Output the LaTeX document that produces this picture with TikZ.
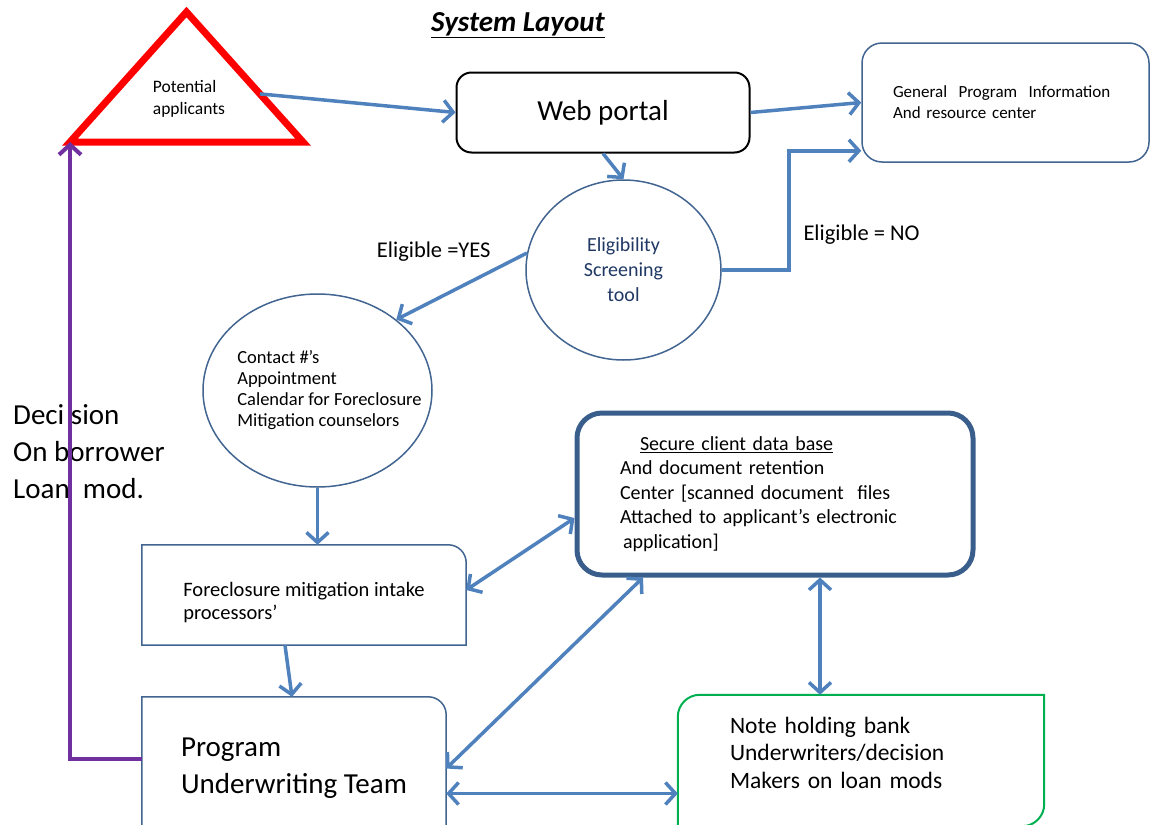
\documentclass[tikz,border=0pt]{standalone}
\usepackage{fontspec}
\setmainfont{Carlito}
\usetikzlibrary{shapes.geometric, arrows.meta, calc}
\definecolor{arrblue}{RGB}{79,129,189}
\definecolor{bordblue}{RGB}{65,100,145}
\definecolor{secblue}{RGB}{58,94,140}
\definecolor{notegreen}{RGB}{0,176,80}
\definecolor{decpurple}{RGB}{112,48,160}
\definecolor{elignavy}{RGB}{31,56,100}
\definecolor{applred}{RGB}{255,0,0}

\begin{document}
\begin{tikzpicture}[x=1pt, y=-1pt,
  box/.style={rectangle,draw=bordblue,line width=1.5pt,rounded corners=20pt,align=left,inner sep=0pt},
  flat/.style={rectangle,draw=none,align=left,inner sep=0pt},
  circ/.style={ellipse,draw=bordblue,line width=1.5pt,align=center,inner sep=0pt},
  tri/.style={isosceles triangle,isosceles triangle stretches,shape border rotate=90,draw=applred,line width=7pt,inner sep=0pt,outer sep=0pt},
  arr/.style={draw=arrblue,line width=3.5pt,-{Straight Barb[length=10pt,width=22pt]}},
  darr/.style={arr,{Straight Barb[length=10pt,width=22pt]}-{Straight Barb[length=10pt,width=22pt]}},
  parr/.style={draw=decpurple,line width=4pt,-{Straight Barb[length=10pt,width=22pt]}},
  lbl/.style={font=\fontsize{22.5}{26}\selectfont,inner sep=2pt},
  smalltxt/.style={font=\fontsize{17}{21}\selectfont}
]
  \clip (0,0) rectangle (1152,825);

  \node[font=\fontsize{29}{34}\selectfont\bfseries\itshape] (title) at (518,25) {\underline{System Layout}};
  \node[tri,minimum width=233pt,minimum height=130pt,anchor=lower side] (appl) at (186.5,142) {};
  \node[flat,font=\fontsize{17.5}{22}\selectfont] (appltxt) at (189,99) {Potential\\applicants};
  \node[box,draw=black,line width=2pt,rounded corners=15pt,minimum width=293pt,minimum height=80pt,font=\fontsize{29}{34}\selectfont] (web) at (603,112.5) {Web portal};
  \node[box,minimum width=287pt,minimum height=119pt,text width=225pt,smalltxt] (gen) at (1005.5,102.5) {General\ \ Program\ \ Information\\And resource center};
  \node[circ,minimum width=195pt,minimum height=180pt,text=elignavy,font=\fontsize{20}{25}\selectfont] (elig) at (623.5,270) {Eligibility\\Screening\\tool};
  \node[circ,minimum width=229pt,minimum height=193pt,label={[flat,xshift=12pt,font=\fontsize{18.5}{21}\selectfont]center:{Contact \#’s\\Appointment\\Calendar for Foreclosure\\Mitigation counselors}}] (cont) at (317.5,390.5) {};
  \node[box,draw=secblue,line width=5pt,rounded corners=25pt,minimum width=396pt,minimum height=162pt,text width=310pt,font=\fontsize{20}{24.5}\selectfont] (sec) at (775,494) {\hspace*{20pt}\underline{Secure client data base}\\And document retention\\Center [scanned document\ \ files\\Attached to applicant’s electronic\\\hspace*{3pt}application]};
  \node[flat,minimum width=324pt,minimum height=100pt,label={[flat,yshift=-8pt,font=\fontsize{20.5}{23}\selectfont]center:{Foreclosure mitigation intake\\processors’}}] (intk) at (304,595) {};
  \node[flat,minimum width=304pt,minimum height=143pt,font=\fontsize{29}{37}\selectfont] (uwt) at (294,768.5) {Program\\Underwriting Team};
  \node[flat,minimum width=366pt,minimum height=131pt,label={[flat,yshift=8pt,text width=262pt,font=\fontsize{23.5}{27.5}\selectfont]center:{Note holding bank\\Underwriters/decision\\Makers on loan mods}}] (note) at (861,760.5) {};
  \node[flat,anchor=west,font=\fontsize{29}{37}\selectfont] (dec) at (13,452) {Deci sion\\On borrower\\Loan\ \ mod.};

  % boxes with single rounded corners
  \draw[bordblue,line width=1.5pt] (intk.south west) -- (intk.north west) -- ([xshift=-18pt]intk.north east) arc[start angle=90,end angle=0,radius=18pt] -- (intk.south east) -- cycle;
  \draw[bordblue,line width=1.5pt] (uwt.south west) -- (uwt.north west) -- ([xshift=-18pt]uwt.north east) arc[start angle=90,end angle=0,radius=18pt] -- (uwt.south east) -- cycle;
  \draw[notegreen,line width=2pt] ([yshift=-22pt]note.north west) arc[start angle=180,end angle=90,radius=22pt] -- (note.north east) -- ([yshift=22pt]note.south east) arc[start angle=0,end angle=-90,radius=22pt] -- (note.south west) -- cycle;

  \draw[arr] ($(appl.apex)!0.63!(appl.right corner)$) -- (web.west);
  \draw[arr] (web.east) -- (gen.west);
  \draw[arr] (web.south) -- (elig.north);
  \draw[arr] (elig.east) -- ++(67,0) |- node[lbl,pos=0.15,anchor=west,xshift=11pt]{Eligible = NO} ($(gen.south west)+(0,-12)$);
  \draw[arr] (elig.170) -- node[lbl,pos=0.25,anchor=south east,yshift=5pt]{Eligible =YES} (cont.42);
  \draw[arr] (cont.south) -- (cont.south |- intk.north);
  \draw[arr] ([xshift=-19pt]intk.south) -- ([xshift=-2pt]uwt.north);
  \draw[darr] ([yshift=5pt]intk.east) -- ([yshift=-24pt]sec.west);
  \draw[darr] (uwt.east) -- ([xshift=-132pt]sec.south);
  \draw[darr] ([xshift=45pt]sec.south) -- ([xshift=-41pt]note.north);
  \draw[darr] ([yshift=-25pt]uwt.east) -- ([yshift=-25pt]uwt.east -| note.west);
  \draw[parr] ([yshift=10pt]uwt.west) -| (appl.left corner);
\end{tikzpicture}
\end{document}
